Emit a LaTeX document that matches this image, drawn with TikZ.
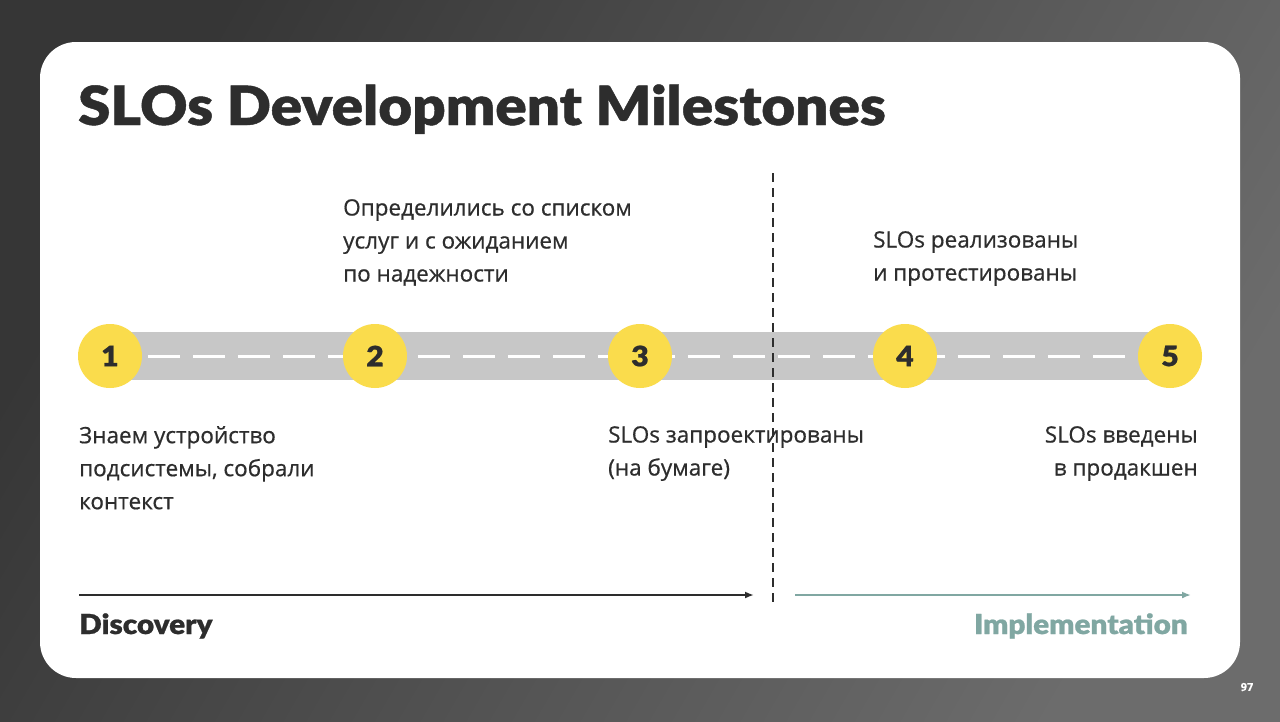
\documentclass[tikz,border=0pt]{standalone}
\usepackage{fontspec}
\setmainfont{Open Sans}[FakeBold=0.6]
\newfontfamily\headfont{Lato Black}[FakeStretch=1.08,FakeBold=0.8]
\usepackage{xcolor}
\definecolor{SLdark}{HTML}{2D2D2D}
\definecolor{SLroad}{HTML}{C7C7C7}
\definecolor{SLyellow}{HTML}{FADC4C}
\definecolor{SLteal}{HTML}{80A7A2}
\definecolor{SLbgdark}{HTML}{363636}
\definecolor{SLbglight}{HTML}{6C6C6C}
\usetikzlibrary{arrows.meta,positioning}

\begin{document}
\begin{tikzpicture}[x=1pt,y=-1pt,
  milestone/.style={circle,fill=SLyellow,minimum size=64pt,inner sep=0pt,
    font=\headfont\fontsize{28}{28}\selectfont,text=SLdark},
  caption/.style={font=\fontsize{22.5}{33}\selectfont,text=SLdark,inner sep=0pt},
  phase/.style={font=\headfont\fontsize{27.5}{27.5}\selectfont,inner sep=0pt},
  road/.style={draw=SLroad,line width=48pt},
  lane/.style={draw=white,line width=3pt,dash pattern=on 32pt off 13pt,dash phase=7pt},
  divider/.style={draw=SLdark,line width=2pt,dash pattern=on 9pt off 6pt},
  span/.style={-{Latex[length=9pt,width=7pt]},line width=2pt}]
\useasboundingbox (0,0) rectangle (1280,721);
\shade[left color=SLbgdark,right color=SLbglight,shading angle=60] (0,0) rectangle (1280,721);
\fill[white,rounded corners=36pt] (40,42) rectangle (1240,678);

\node[phase,anchor=base west,font=\headfont\fontsize{54}{54}\selectfont,text=SLdark] (title) at (78,125) {SLOs Development Milestones};

% road with milestones
\coordinate (p1) at (110,356);
\coordinate (p2) at (375,356);
\coordinate (p3) at (640,356);
\coordinate (p4) at (905,356);
\coordinate (p5) at (1170,356);
\draw[road] (p1) -- (p5);
\draw[lane] (p1) -- (p5);
\foreach \i in {1,...,5}
  \node[milestone] (m\i) at (p\i) {\i};

% phase border
\coordinate (divtop) at (773,173);
\coordinate (divbot) at (773,602);
\draw[divider] (divtop) -- (divbot);

\node[caption,anchor=north west,align=left] (c1) at (79,426) {Знаем устройство\\подсистемы, собрали\\контекст};
\node[caption,anchor=north west,align=left] (c2) at (343,199) {Определились со списком\\услуг и с ожиданием\\по надежности};
\node[caption,anchor=north west,align=left] (c3) at (608,426) {SLOs запроектированы\\(на бумаге)};
\node[caption,anchor=north west,align=left] (c4) at (873,231) {SLOs реализованы\\и протестированы};
\node[caption,anchor=north east,align=right] (c5) at (1198,426) {SLOs введены\\в продакшен};

% phases
\coordinate (dstart) at (79,595);
\coordinate (dend) at (754,595);
\coordinate (istart) at (795,595);
\coordinate (iend) at (1191,595);
\draw[span,SLdark] (dstart) -- (dend);
\draw[span,SLteal] (istart) -- (iend);
\node[phase,anchor=base west,text=SLdark] (disc) at (79,634) {Discovery};
\node[phase,anchor=base east,text=SLteal] (impl) at (1188,634) {Implementation};

\node[font=\bfseries\fontsize{11}{11}\selectfont,text=white,inner sep=0pt] (page) at (1247,687) {97};
\end{tikzpicture}
\end{document}
